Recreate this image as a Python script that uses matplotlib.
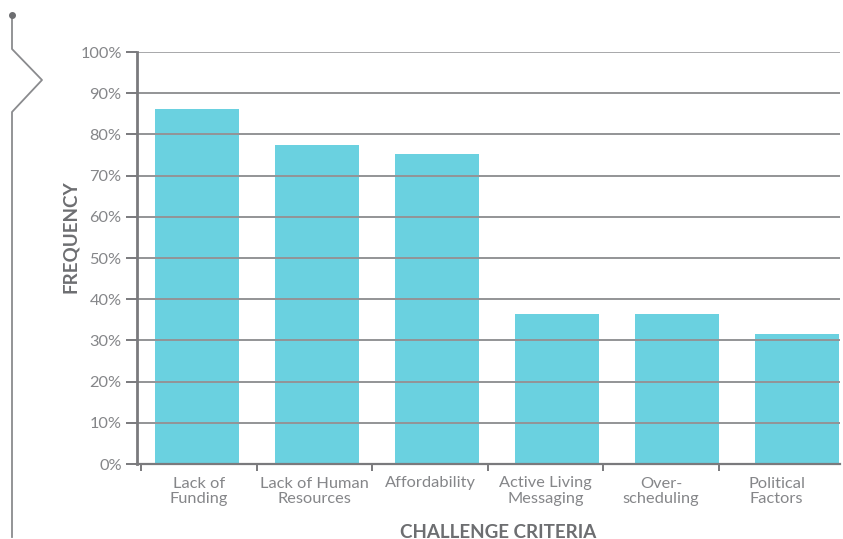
import matplotlib
matplotlib.use("Agg")
import matplotlib.pyplot as plt
from matplotlib.lines import Line2D
import numpy as np

CATEGORIES = ["Lack of\nFunding", "Lack of Human\nResources", "Affordability",
              "Active Living\nMessaging", "Over-\nscheduling", "Political\nFactors"]
FREQUENCY = [86.2, 77.4, 75.2, 36.4, 36.4, 31.6]
Y_TICKS = list(range(0, 101, 10))

BAR_COLOR = "#6ad1e0"
GRID_COLOR = "#939496"
AXIS_COLOR = "#7a7a7d"
TICK_TEXT = "#858689"
TITLE_TEXT = "#6d6e71"
W, H = 843, 539
LEFT, RIGHT, BOTTOM, TOP = 137, 840, 464, 52

plt.rcParams["font.family"] = ["Lato", "DejaVu Sans"]

fig = plt.figure(figsize=(W / 100, H / 100), dpi=100)
ax = fig.add_axes([LEFT / W, 1 - BOTTOM / H, (RIGHT - LEFT) / W, (BOTTOM - TOP) / H])

# bars sit on a 120 px pitch; the category labels below use a slightly tighter one
x = np.arange(len(CATEGORIES))
ax.bar(x, FREQUENCY, width=0.70, color=BAR_COLOR, zorder=1)
for v in Y_TICKS[1:]:
    ax.axhline(v, color="#a7a8aa" if v == 100 else GRID_COLOR, lw=1.4, zorder=2)

ax.set_xlim(-0.5, -0.5 + (RIGHT - LEFT) / 120)
ax.set_ylim(0, 100)
ax.set_yticks(Y_TICKS)
ax.set_yticklabels([f"{v}%" for v in Y_TICKS])
ax.set_xticks([])
ax.tick_params(axis="y", length=8, width=1.4, color=AXIS_COLOR, pad=3,
               labelsize=11.8, labelcolor=TICK_TEXT)

for s in ["top", "right"]:
    ax.spines[s].set_visible(False)
ax.spines["left"].set_color(AXIS_COLOR)
ax.spines["left"].set_linewidth(2)
ax.spines["bottom"].set_color(AXIS_COLOR)
ax.spines["bottom"].set_linewidth(1.6)

lab = ax.twiny()
lab.xaxis.set_ticks_position("bottom")
lab.xaxis.set_label_position("bottom")
lab.set_xlim(-62 / 115.5, -62 / 115.5 + (RIGHT - LEFT) / 115.5)
lab.set_xticks(x)
lab.set_xticklabels(CATEGORIES, linespacing=1.1)
lab.set_xticks(np.arange(len(CATEGORIES)) - 0.5, minor=True)
lab.tick_params(axis="x", which="major", length=0, pad=9, labelsize=11.8, labelcolor=TICK_TEXT)
lab.tick_params(axis="x", which="minor", length=5, width=1.4, color=AXIS_COLOR, direction="out")
for s in lab.spines.values():
    s.set_visible(False)

fig.text(71 / W, 1 - 237 / H, "FREQUENCY", rotation=90, ha="center", va="center",
         fontsize=13.5, fontweight="bold", color=TITLE_TEXT)
fig.text(498 / W, 1 - 532 / H, "CHALLENGE CRITERIA", ha="center", va="center",
         fontsize=13.5, fontweight="bold", color=TITLE_TEXT)

# decorative bracket on the left edge
px = [12, 12, 42, 12, 12]
py = [15, 49, 80, 112, 537]
fig.add_artist(Line2D([p / W for p in px], [1 - p / H for p in py],
                      transform=fig.transFigure, color="#8a8b8e", lw=1.3))
fig.add_artist(Line2D([12 / W], [1 - 15 / H], transform=fig.transFigure,
                      marker="o", markersize=4, color="#6d6e71"))

fig.savefig("out.png", dpi=100)
